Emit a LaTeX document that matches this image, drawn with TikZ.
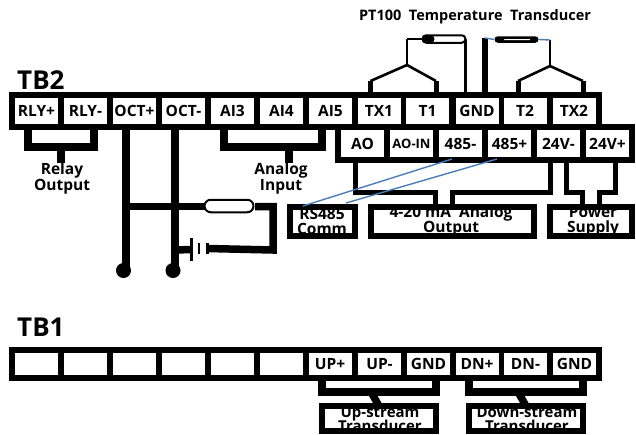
\documentclass[tikz,border=0pt]{standalone}
\usepackage{fontspec}
\setmainfont{Open Sans}
\usetikzlibrary{shapes.misc,positioning}
\pgfdeclarelayer{bg}
\pgfsetlayers{bg,main}
\definecolor{wireblue}{HTML}{4A7EBB}
\newcommand{\fs}[1]{\fontsize{#1}{#1}\selectfont\bfseries}
\tikzset{
  bar/.style={fill=black,draw=none,inner sep=0,outer sep=0},
  cellbase/.style={fill=white,draw=none,inner sep=0,outer sep=0,minimum width=43pt,font=\fs{15.5}},
  cellA/.style={cellbase,minimum height=26pt},
  cellB/.style={cellbase,minimum height=27pt},
  cellC/.style={cellbase,minimum height=22pt},
  boxn/.style={draw=black,fill=white,line width=6pt,inner sep=0,outer sep=0,minimum height=28.5pt},
  boxt/.style={align=center,inner sep=0,font=\fs{15.5}},
  heavy/.style={draw=black,line width=7.5pt},
  midw/.style={draw=black,line width=5pt},
  thin/.style={draw=black,line width=2.6pt},
  bluew/.style={draw=wireblue,line width=1.4pt},
  pill/.style={rounded rectangle,draw=black,line width=2pt,fill=white,inner sep=0,outer sep=0},
  dot/.style={circle,fill=black,draw=none,inner sep=0,minimum size=15pt,outer sep=0},
  plate/.style={fill=black,draw=none,inner sep=0,outer sep=0},
  lab/.style={align=center,inner sep=0,font=\fs{15.5}},
}
\begin{document}
\begin{tikzpicture}[x=1pt,y=-1pt]
\useasboundingbox (0,0) rectangle (636,434);
% titles
\node[inner sep=0,font=\fs{14.5}] (pttitle) at (475,17) {PT100\ \ Temperature\ \ Transducer};
\node[inner sep=0,anchor=west,font=\fs{26}] (tb2) at (17,80.5) {TB2};
\node[inner sep=0,anchor=west,font=\fs{26}] (tb1) at (17,327.5) {TB1};
% bars
\begin{pgfonlayer}{bg}
\fill[white] (0,0) rectangle (636,434);
\node[bar,minimum width=593pt,minimum height=38pt] (bartop) at (305.5,111) {};
\node[bar,minimum width=300pt,minimum height=39pt] (barmid) at (485,143.5) {};
\node[bar,minimum width=593pt,minimum height=34pt] (barb) at (305.5,364) {};
\end{pgfonlayer}
% upper row
\node[cellA] (rlyp) at (36.5,111) {RLY+};
\node[cellA] (rlym) at (85.5,111) {RLY-};
\node[cellA] (octp) at (134.5,111) {OCT+};
\node[cellA] (octm) at (183.5,111) {OCT-};
\node[cellA] (ai3) at (232.5,111) {AI3};
\node[cellA] (ai4) at (281.5,111) {AI4};
\node[cellA] (ai5) at (330.5,111) {AI5};
\node[cellA] (tx1) at (379,111) {TX1};
\node[cellA] (t1) at (427.5,111) {T1};
\node[cellA] (gnd) at (477,111) {GND};
\node[cellA] (t2) at (525,111) {T2};
\node[cellA] (tx2) at (574,111) {TX2};
% second row
\node[cellB] (ao) at (362.5,143.5) {AO};
\node[cellB,font=\fs{13}] (aoin) at (411.5,143.5) {AO-IN};
\node[cellB] (r485m) at (460.5,143.5) {485-};
\node[cellB] (r485p) at (509.5,143.5) {485+};
\node[cellB] (v24m) at (558.5,143.5) {24V-};
\node[cellB] (v24p) at (607.5,143.5) {24V+};
% TB1 row
\node[cellC] (e1) at (36.5,364) {};
\node[cellC] (e2) at (85.5,364) {};
\node[cellC] (e3) at (134.5,364) {};
\node[cellC] (e4) at (183.5,364) {};
\node[cellC] (e5) at (232.5,364) {};
\node[cellC] (e6) at (281.5,364) {};
\node[cellC] (upp) at (330,364) {UP+};
\node[cellC] (upm) at (379.5,364) {UP-};
\node[cellC] (gnda) at (428.5,364) {GND};
\node[cellC] (dnp) at (477,364) {DN+};
\node[cellC] (dnm) at (525.5,364) {DN-};
\node[cellC] (gndb) at (574.5,364) {GND};
% boxes
\node[boxn,minimum width=65pt] (rs) at (322,221.25) {};
\node[boxn,minimum width=163pt] (ma) at (452.5,221.25) {};
\node[boxn,minimum width=82pt] (ps) at (591,221.25) {};
\node[boxn,minimum width=114pt,minimum height=25pt] (upx) at (379,418.5) {};
\node[boxn,minimum width=114pt,minimum height=25pt] (dnx) at (526,418.5) {};
\node[boxt] (rst) at (322,221) {RS485\\[-0.5pt]Comm};
\node[boxt] (mat) at (451,221) {4-20\ mA\ \ Analog\\[-0.5pt]Output};
\node[boxt] (pst) at (593,221) {Power\\[-0.5pt]Supply};
\node[boxt,font=\fs{15}] (upt) at (380,419) {Up-stream\\[-1pt]Transducer};
\node[boxt,font=\fs{15}] (dnt) at (527,419) {Down-stream\\[-1pt]Transducer};
\node[lab] (relayl) at (62,178) {Relay\\[0.5pt]Output};
\node[lab] (analogl) at (281,178) {Analog\\[0.5pt]Input};
% free points
\coordinate (rlyj) at (61,147);
\coordinate (rlyq) at (61,163);
\coordinate (anj) at (289,147);
\coordinate (anq) at (289,163);
\coordinate (busl) at (126,206.5);
\coordinate (busr) at (206,206.5);
\node[pill,minimum width=49pt,minimum height=12.5pt] (tube) at (229,206) {};
\node[dot] (dotp) at (123.5,270.5) {};
\node[dot] (dotm) at (173,270.5) {};
\node[plate,minimum width=3pt,minimum height=23pt] (batA) at (191.5,249.5) {};
\node[plate,minimum width=2.5pt,minimum height=11pt] (batB) at (199,248.5) {};
\node[plate,minimum width=3pt,minimum height=11pt] (batC) at (207.5,248.5) {};
\coordinate (loopa) at (255,206.5);
\coordinate (loopb) at (273,206.5);
\coordinate (loopc) at (273,250);
\coordinate (octmw) at (175,250);
% PT100 left
\node[pill,minimum width=43pt,minimum height=7.5pt] (ptl) at (444,39) {};
\node[rounded rectangle,fill=black,inner sep=0,minimum width=13pt,minimum height=8pt] (ptlk) at (428,39) {};
\coordinate (ltop) at (407,39);
\coordinate (ljun) at (407,65);
\coordinate (lla) at (370.5,81);
\coordinate (llb) at (436,81);
\coordinate (lrt) at (465,39);
% PT100 right
\node[rounded rectangle,fill=black,inner sep=0,minimum width=44pt,minimum height=6.5pt] (ptr) at (516.5,39.5) {};
\node[rounded rectangle,fill=white,inner sep=0,minimum width=26pt,minimum height=1pt] (ptrh) at (517,39.5) {};
\coordinate (rtop) at (485,38);
\coordinate (rtp) at (550,40);
\coordinate (rjun) at (550,66);
\coordinate (rla) at (518,81);
\coordinate (rlb) at (583,81);
% TB1 bracket points
\coordinate (upj) at (371,392);
\coordinate (dnj) at (518,392);
\begin{pgfonlayer}{bg}
% relay bracket
\draw[heavy] ([xshift=-8.5pt]rlyp.south) -- ++(0,23) -| ([xshift=8.5pt]rlym.south);
\draw[heavy] (rlyj) -- (rlyq);
% OCT
\draw[heavy] ([xshift=-8.5pt]octp.south) -- ([xshift=2.5pt]dotp.center);
\draw[heavy] ([xshift=-8.5pt]octm.south) -- ([xshift=2pt]dotm.center);
\draw[heavy] (busl) -- (busr);
\draw[heavy] (loopa) -- (loopb) -- (loopc) -- (batC.center);
\draw[heavy] (octmw) -- (batA.center);
% analog bracket
\draw[heavy] ([xshift=-8.5pt]ai3.south) -- ++(0,23) -| ([xshift=-8.5pt]ai5.south);
\draw[heavy] (anj) -- (anq);
% second row wires
\draw[midw] ([xshift=-7.5pt]ao.south) |- (435.5,192.5) -- ([xshift=-17pt]ma.north);
\draw[midw] ([xshift=-8pt]v24m.south) |- (452.5,192.5) -- (ma.north);
\draw[midw] ([xshift=7.5pt]v24m.south) |- (582.5,192.5) -- ([xshift=-8.5pt]ps.north);
\draw[midw] ([xshift=8pt]v24p.south) |- (599.5,192.5) -- ([xshift=8.5pt]ps.north);
% TB1 brackets
\draw[heavy] ([xshift=-8pt]upp.south) -- ++(0,17) -| ([xshift=7.5pt]gnda.south);
\draw[heavy] (upj) -- (upx.north);
\draw[heavy] ([xshift=-8pt]dnp.south) -- ++(0,17) -| ([xshift=8.5pt]gndb.south);
\draw[heavy] (dnj) -- (dnx.north);
% PT100 wires
\draw[thin] (ltop) -- (ptl.west);
\draw[thin] (ltop) -- (ljun);
\draw[thin] (lla) -- (ljun) -- (llb);
\draw[midw] (lla) -- (lla |- tx1.north);
\draw[midw] (llb) -- (llb |- t1.north);
\draw[thin,line width=3pt] (ptl.east) -- (lrt) -- (lrt |- gnd.north);
\draw[line width=5.5pt,draw=black] (rtop) -- (rtop |- gnd.north);
\draw[thin,line width=2pt] (rtp) -- (rjun);
\draw[thin] (rla) -- (rjun) -- (rlb);
\draw[midw] (rla) -- (rla |- t2.north);
\draw[midw] (rlb) -- (rlb |- tx2.north);
\end{pgfonlayer}
% blue
\draw[bluew] (rtop) -- (ptr.west);
\draw[bluew] (ptr.east) -- (rtp);
\coordinate (bma) at (452,159);
\coordinate (bmb) at (303,206);
\coordinate (bpa) at (497,159);
\coordinate (bpb) at (346,203);
\draw[bluew] (bma) -- (bmb);
\draw[bluew] (bpa) -- (bpb);
\end{tikzpicture}
\end{document}
